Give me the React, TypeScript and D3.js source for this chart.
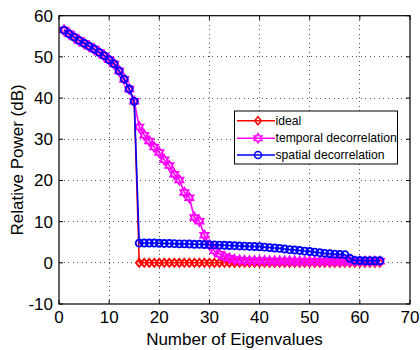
import React from 'react';
import * as d3 from 'd3';

// Eigenvalue index (1..64)
const eigenIndex: number[] = d3.range(1, 65);

// Relative power in dB for each eigenvalue
const idealPower: number[] = [
  56.5, 55.6, 54.8, 54.0, 53.3, 52.6, 51.9, 51.1, 50.3, 49.3, 48.3, 46.6, 44.6, 42.2, 39.2,
  0, 0, 0, 0, 0, 0, 0, 0, 0, 0, 0, 0, 0, 0, 0, 0, 0, 0, 0, 0, 0, 0, 0, 0, 0, 0, 0, 0, 0, 0,
  0, 0, 0, 0, 0, 0, 0, 0, 0, 0, 0, 0, 0, 0, 0, 0, 0, 0, 0,
];

const temporalPower: number[] = [
  56.5, 55.6, 54.8, 54.0, 53.3, 52.6, 51.9, 51.1, 50.3, 49.3, 48.3, 46.6, 44.6, 42.2, 39.2,
  33.0, 31.0, 29.6, 28.1, 26.8, 25.0, 23.6, 21.5, 20.1, 17.1, 15.8, 11.0, 10.1, 6.7, 4.3,
  2.9, 2.1, 1.5, 1.1, 0.8, 0.65, 0.55, 0.5, 0.5, 0.5, 0.5, 0.45, 0.45, 0.45, 0.45, 0.45,
  0.4, 0.4, 0.4, 0.4, 0.4, 0.4, 0.4, 0.4, 0.35, 0.35, 0.35, 0.35, 0.35, 0.35, 0.35, 0.35,
  0.35, 0.35,
];

const spatialPower: number[] = [
  56.5, 55.6, 54.8, 54.0, 53.3, 52.6, 51.9, 51.1, 50.3, 49.3, 48.3, 46.6, 44.6, 42.2, 39.2,
  4.8, 4.8, 4.8, 4.8, 4.75, 4.7, 4.7, 4.65, 4.6, 4.6, 4.55, 4.5, 4.5, 4.45, 4.4,
  4.35, 4.3, 4.25, 4.2, 4.15, 4.1, 4.05, 4.0, 3.95, 3.9, 3.8, 3.7, 3.6, 3.5, 3.35,
  3.2, 3.1, 3.0, 2.85, 2.75, 2.6, 2.45, 2.3, 2.2, 2.1, 2.05, 2.0, 1.1, 0.6, 0.55,
  0.5, 0.5, 0.5, 0.5,
];

const xTicks: number[] = [0, 10, 20, 30, 40, 50, 60, 70];
const yTicks: number[] = [-10, 0, 10, 20, 30, 40, 50, 60];

const seriesNames: string[] = ['ideal', 'temporal decorrelation', 'spatial decorrelation'];
const seriesColors: string[] = ['#ff0000', '#ff00ff', '#0000ff'];
const seriesMarkers: string[] = ['diamond', 'hexagram', 'circle'];
const seriesValues: number[][] = [idealPower, temporalPower, spatialPower];

const W = 420;
const H = 350;
const left = 59;
const right = 410;
const top = 15.7;
const bottom = 304;

const FONT = '"Liberation Sans", Arial, Helvetica, sans-serif';

function markerPath(kind: string): string {
  if (kind === 'diamond') {
    return 'M0,-4L3.3,0L0,4L-3.3,0Z';
  }
  if (kind === 'hexagram') {
    const outer = 4.6;
    const inner = outer / Math.sqrt(3);
    const pts: [number, number][] = d3.range(12).map((i) => {
      const a = -Math.PI / 2 + (i * Math.PI) / 6;
      const r = i % 2 === 0 ? outer : inner;
      return [r * Math.cos(a), r * Math.sin(a)];
    });
    return 'M' + pts.map((p) => p[0].toFixed(2) + ',' + p[1].toFixed(2)).join('L') + 'Z';
  }
  // circle
  const r = 3.5;
  return `M${r},0A${r},${r} 0 1,1 ${-r},0A${r},${r} 0 1,1 ${r},0Z`;
}

export default function App() {
  const x = d3.scaleLinear().domain([0, 70]).range([left, right]);
  const y = d3.scaleLinear().domain([-10, 60]).range([bottom, top]);

  const line = d3
    .line<number>()
    .x((_, i) => x(eigenIndex[i]))
    .y((d) => y(d));

  const tickLen = 4;
  const legendX = 234.5;
  const legendY = 111;
  const legendW = 163;
  const legendH = 53;
  const rowY = [120.7, 138.2, 155];
  const markerStroke = 1.9;

  return (
    <div style={{ position: 'absolute', left: 0, top: 0 }}>
      <svg width={W} height={H} style={{ display: 'block', background: '#fff' }} fontFamily={FONT}>
        <rect x={0} y={0} width={W} height={H} fill="#fff" />

        {/* grid */}
        <g stroke="#555" strokeWidth={1} strokeDasharray="1,3.5" shapeRendering="crispEdges">
          {xTicks
            .filter((t) => t > 0 && t < 70)
            .map((t) => (
              <line key={'gx' + t} x1={x(t)} x2={x(t)} y1={top} y2={bottom} />
            ))}
          {yTicks
            .filter((t) => t > -10 && t < 60)
            .map((t) => (
              <line key={'gy' + t} x1={left} x2={right} y1={y(t)} y2={y(t)} />
            ))}
        </g>

        {/* tick marks on all four sides */}
        <g stroke="#000" strokeWidth={1}>
          {xTicks.map((t) => (
            <g key={'tx' + t}>
              <line x1={x(t)} x2={x(t)} y1={bottom} y2={bottom - tickLen} />
              <line x1={x(t)} x2={x(t)} y1={top} y2={top + tickLen} />
            </g>
          ))}
          {yTicks.map((t) => (
            <g key={'ty' + t}>
              <line x1={left} x2={left + tickLen} y1={y(t)} y2={y(t)} />
              <line x1={right} x2={right - tickLen} y1={y(t)} y2={y(t)} />
            </g>
          ))}
        </g>

        {/* series */}
        {seriesValues.map((vals, si) => (
          <g key={'s' + si}>
            <path d={line(vals) || ''} fill="none" stroke={seriesColors[si]} strokeWidth={1.6} />
            {vals.map((v, i) => (
              <path
                key={i}
                d={markerPath(seriesMarkers[si])}
                transform={`translate(${x(eigenIndex[i])},${y(v)})`}
                fill="none"
                stroke={seriesColors[si]}
                strokeWidth={markerStroke}
              />
            ))}
          </g>
        ))}

        {/* axes box */}
        <rect
          x={left}
          y={top}
          width={right - left}
          height={bottom - top}
          fill="none"
          stroke="#000"
          strokeWidth={1.2}
        />

        {/* tick labels */}
        <g fontSize={17} fill="#000">
          {xTicks.map((t) => (
            <text key={'lx' + t} x={x(t)} y={323} textAnchor="middle">
              {t}
            </text>
          ))}
          {yTicks.map((t) => (
            <text key={'ly' + t} x={53} y={y(t)} dy="0.35em" textAnchor="end">
              {t}
            </text>
          ))}
        </g>

        {/* axis titles */}
        <text x={(left + right) / 2} y={345} textAnchor="middle" fontSize={17} fill="#000">
          Number of Eigenvalues
        </text>
        <text
          transform={`translate(22.5,${(top + bottom) / 2}) rotate(-90)`}
          textAnchor="middle"
          fontSize={17}
          fill="#000"
        >
          Relative Power (dB)
        </text>

        {/* legend */}
        <g>
          <rect x={legendX} y={legendY} width={legendW} height={legendH} fill="#fff" stroke="#000" strokeWidth={1} />
          {seriesNames.map((name, i) => (
            <g key={'lg' + i}>
              <line x1={237} x2={275} y1={rowY[i]} y2={rowY[i]} stroke={seriesColors[i]} strokeWidth={1.5} />
              <path
                d={markerPath(seriesMarkers[i])}
                transform={`translate(258,${rowY[i]})`}
                fill="none"
                stroke={seriesColors[i]}
                strokeWidth={1.5}
              />
              <text x={275.5} y={rowY[i]} dy="0.35em" fontSize={12.2} fill="#000">
                {name}
              </text>
            </g>
          ))}
        </g>
      </svg>
    </div>
  );
}
